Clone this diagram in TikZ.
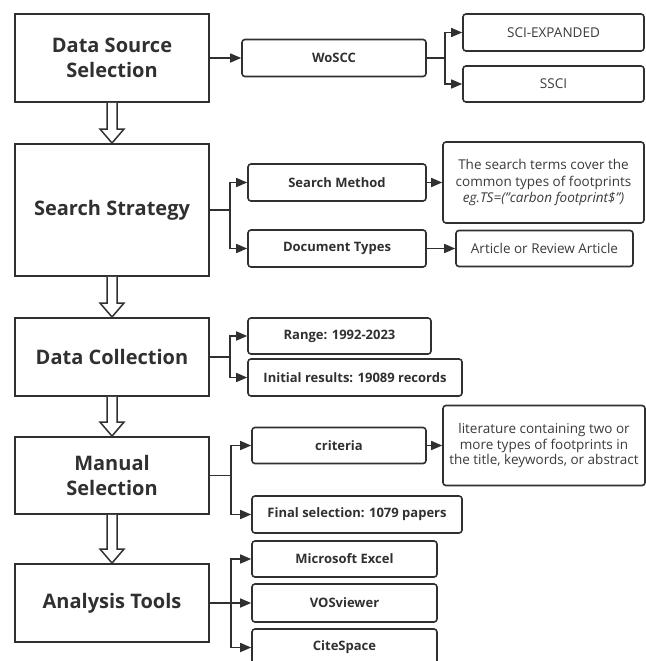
\documentclass[tikz,border=0pt]{standalone}
\usepackage{fontspec}
\setmainfont{Open Sans}
\usetikzlibrary{arrows.meta,calc}
\definecolor{ink}{HTML}{303030}
\definecolor{txt}{HTML}{3A3A3A}
\begin{document}
\begin{tikzpicture}[x=1pt,y=-1pt,
  mainbox/.style={draw=ink, line width=1.9pt, minimum width=194pt, align=center, text=ink, inner sep=0pt,
    font=\bfseries\fontsize{20}{25}\selectfont},
  subbox/.style={draw=ink, line width=1.6pt, rounded corners=3pt, align=center, text=txt, inner sep=0pt,
    font=\fontsize{13.5}{16.5}\selectfont},
  boldbox/.style={subbox, text=ink, font=\bfseries\fontsize{13}{16}\selectfont},
  arr/.style={draw=ink, line width=1.6pt, -{Triangle[length=11pt,width=9pt]}},
  hollow/.style={draw=ink, line width=1.5pt, fill=white, line join=miter}
]
\useasboundingbox (0,0) rectangle (645,661);

% main boxes
\node[mainbox, minimum height=88pt]  (dss) at (112,58)  {Data Source\\Selection};
\node[mainbox, minimum height=132pt] (ss)  at (112,210) {Search Strategy};
\node[mainbox, minimum height=78pt]  (dc)  at (112,357) {Data Collection};
\node[mainbox, minimum height=77pt]  (ms)  at (112,475.5) {Manual\\Selection};
\node[mainbox, minimum height=78pt]  (at)  at (112,603) {Analysis Tools};

% hollow arrows
\foreach \a/\b in {dss/ss, ss/dc, dc/ms, ms/at}{
  \draw[hollow] ($(\a.south)+(-5,0)$) -- ($(\b.north)+(-5,-14)$) -- ($(\b.north)+(-12,-14)$)
    -- (\b.north) -- ($(\b.north)+(12,-14)$) -- ($(\b.north)+(5,-14)$) -- ($(\a.south)+(5,0)$);
}

% data source
\node[boldbox, minimum width=184pt, minimum height=37pt] (woscc) at (334,58) {WoSCC};
\node[subbox, minimum width=181pt, minimum height=37pt] (sci) at (553.5,32.5) {SCI-EXPANDED};
\node[subbox, minimum width=181pt, minimum height=36pt] (ssci) at (553.5,84) {SSCI};
\draw[arr] (dss.east) -- (woscc.west);
\draw[arr] (woscc.east) -- ++(18,0) |- (sci.west);
\draw[arr] (woscc.east) -- ++(18,0) |- (ssci.west);

% search strategy
\node[boldbox, minimum width=178pt, minimum height=37pt] (sm) at (337,182.5) {Search Method};
\node[boldbox, minimum width=178pt, minimum height=37pt] (dt) at (337,248.5) {Document Types};
\node[subbox, minimum width=201pt, minimum height=81pt] (terms) at (543.5,182.5)
  {The search terms cover the\\common types of footprints\\\itshape eg.TS=("carbon footprint\$")};
\node[subbox, minimum width=177pt, minimum height=36pt] (art) at (544.5,248.5) {Article or Review Article};
\draw[arr] (ss.east) -- ++(20,0) |- (sm.west);
\draw[arr] (ss.east) -- ++(20,0) |- (dt.west);
\draw[arr] (sm.east) -- (terms.west);
\draw[arr] (dt.east) -- (art.west);

% data collection
\node[boldbox, minimum width=183pt, minimum height=36pt] (range) at (339.5,336) {Range: 1992-2023};
\node[boldbox, minimum width=214pt, minimum height=37pt] (init) at (355,377.5) {Initial results: 19089 records};
\draw[arr] (dc.east) -- ++(20,0) |- (range.west);
\draw[arr] (dc.east) -- ++(20,0) |- (init.west);

% manual selection
\node[boldbox, minimum width=174pt, minimum height=36pt] (crit) at (339,445.5) {criteria};
\node[subbox, minimum width=202pt, minimum height=80pt, font=\fontsize{13.5}{15.5}\selectfont] (lit) at (544,445.5)
  {literature containing two or\\more types of footprints in\\the title, keywords, or abstract};
\node[boldbox, minimum width=210pt, minimum height=37pt] (final) at (357,514.5) {Final selection: 1079 papers};
\draw[arr] (ms.east) -- ++(21,0) |- (crit.west);
\draw[arr] (ms.east) -- ++(21,0) |- (final.west);
\draw[arr] (crit.east) -- (lit.west);

% analysis tools
\node[boldbox, minimum width=185pt, minimum height=36pt] (excel) at (344.5,559) {Microsoft Excel};
\node[boldbox, minimum width=185pt, minimum height=38pt] (vos) at (344.5,603) {VOSviewer};
\node[boldbox, minimum width=185pt, minimum height=37pt] (cite) at (344.5,647.5) {CiteSpace};
\draw[arr] (at.east) -- ++(21,0) |- (excel.west);
\draw[arr] (at.east) -- (vos.west);
\draw[arr] (at.east) -- ++(21,0) |- (cite.west);
\end{tikzpicture}
\end{document}
